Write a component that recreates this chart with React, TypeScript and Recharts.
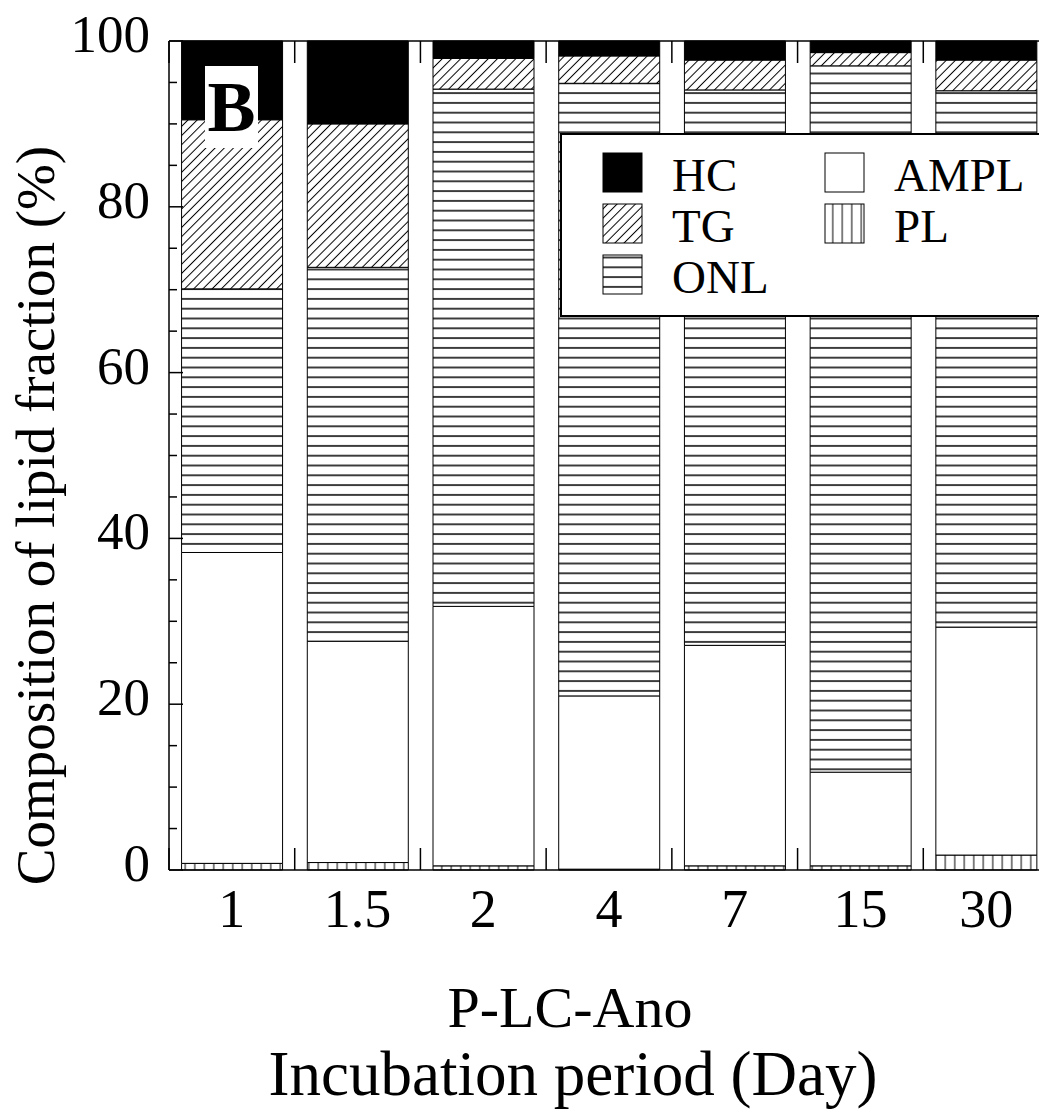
import React from 'react';
import { BarChart, Bar, XAxis, YAxis, Legend } from 'recharts';

const days = ['1', '1.5', '2', '4', '7', '15', '30'];
const plValues = [0.8, 0.9, 0.5, 0.1, 0.5, 0.5, 1.8];
const amplValues = [37.5, 26.7, 31.3, 20.9, 26.6, 11.3, 27.5];
const onlValues = [31.8, 45.1, 62.4, 73.9, 67.0, 85.2, 64.7];
const tgValues = [20.4, 17.3, 3.7, 3.3, 3.6, 1.6, 3.7];
const hcValues = [9.5, 10.0, 2.1, 1.8, 2.3, 1.4, 2.3];
const yTicks = [0, 5, 10, 15, 20, 25, 30, 35, 40, 45, 50, 55, 60, 65, 70, 75, 80, 85, 90, 95, 100];

const rows = days.map((day, i) => ({
  day,
  PL: plValues[i],
  AMPL: amplValues[i],
  ONL: onlValues[i],
  TG: tgValues[i],
  HC: hcValues[i]
}));

// stack order bottom -> top
const series = [
  { key: 'PL', fill: 'url(#plLines)' },
  { key: 'AMPL', fill: '#ffffff' },
  { key: 'ONL', fill: 'url(#onlLines)' },
  { key: 'TG', fill: 'url(#tgHatch)' },
  { key: 'HC', fill: '#000000' }
];

// legend columns as laid out in the figure
const legendCols = [['HC', 'TG', 'ONL'], ['AMPL', 'PL']];

const FONT = '"Liberation Serif", "Times New Roman", serif';
const Y_MARGIN = 19;

const LeftTick = (props: any) => {
  const { x, y, payload } = props;
  const axisX = x + Y_MARGIN;
  const major = payload.value % 20 === 0;
  return (
    <g>
      <line x1={axisX} x2={axisX + (major ? 14 : 8)} y1={y} y2={y} stroke="#000" strokeWidth={1.5} />
      {major && (
        <text x={x} y={y + 11} textAnchor="end" fontSize={53} fontFamily={FONT} fill="#000">
          {payload.value}
        </text>
      )}
    </g>
  );
};

const RightTick = (props: any) => {
  const { x, y, payload } = props;
  const major = payload.value % 20 === 0;
  return <line x1={x} x2={x - (major ? 14 : 8)} y1={y} y2={y} stroke="#000" strokeWidth={1.5} />;
};

const BottomTick = (props: any) => {
  const { x, y, payload, width, visibleTicksCount } = props;
  const band = (width || 880) / (visibleTicksCount || 7);
  const bx = x - band / 2;
  return (
    <g>
      <line x1={bx} x2={bx} y1={y} y2={y - 22} stroke="#000" strokeWidth={1.5} />
      <text x={x} y={y + 57} textAnchor="middle" fontSize={54} fontFamily={FONT} fill="#000">
        {payload.value}
      </text>
    </g>
  );
};

const TopTick = (props: any) => {
  const { x, y, width, visibleTicksCount } = props;
  const band = (width || 880) / (visibleTicksCount || 7);
  const bx = x - band / 2;
  return <line x1={bx} x2={bx} y1={y} y2={y + 22} stroke="#000" strokeWidth={1.5} />;
};

const XTitle = (props: any) => {
  const vb = props.viewBox || { x: 169, y: 870, width: 880, height: 247 };
  const cx = vb.x + vb.width / 2 - 39;
  return (
    <g fontFamily={FONT} fill="#000">
      <text x={cx} y={vb.y + 157} textAnchor="middle" fontSize={58}>P-LC-Ano</text>
      <text x={cx + 3} y={vb.y + 225} textAnchor="middle" fontSize={63}>Incubation period (Day)</text>
    </g>
  );
};

const YTitle = (props: any) => {
  const vb = props.viewBox || { x: 0, y: 41, width: 169, height: 829 };
  const cx = vb.x + 54;
  const cy = vb.y + vb.height / 2 + 60;
  return (
    <text
      x={cx}
      y={cy}
      transform={`rotate(-90, ${cx}, ${cy})`}
      textAnchor="middle"
      fontSize={55}
      fontFamily={FONT}
      fill="#000"
    >
      Composition of lipid fraction (%)
    </text>
  );
};

const LegendBox = () => {
  const fillOf = (k: string) => series.find((s) => s.key === k)!.fill;
  return (
    <div
      style={{
        width: 520,
        height: 184,
        boxSizing: 'border-box',
        border: '2px solid #000',
        background: '#fff'
      }}
    >
      <svg width={516} height={180}>
        {legendCols.map((col, c) =>
          col.map((name, r) => {
            const sx = c === 0 ? 41 : 263;
            const sy = 18 + r * 51;
            return (
              <g key={name}>
                <rect x={sx} y={sy} width={39} height={39} fill={fillOf(name)} stroke="#000" strokeWidth={1} />
                <text x={sx + 69} y={sy + 38} fontSize={47} fontFamily={FONT} fill="#000">
                  {name}
                </text>
              </g>
            );
          })
        )}
      </svg>
    </div>
  );
};

const LipidChart = () => {
  return (
    <div
      style={{
        position: 'absolute',
        left: 0,
        top: 0,
        width: 1039,
        height: 1117,
        overflow: 'hidden',
        background: '#fff'
      }}
    >
      <BarChart
        width={1050}
        height={1117}
        data={rows}
        margin={{ top: 40, right: 0, bottom: 0, left: 0 }}
        barCategoryGap="10%"
      >
        <defs>
          <pattern id="tgHatch" width={6.5} height={6.5} patternUnits="userSpaceOnUse" patternTransform="rotate(45)">
            <rect width={6.5} height={6.5} fill="#fff" />
            <line x1={3.25} y1={0} x2={3.25} y2={6.5} stroke="#000" strokeWidth={1} />
          </pattern>
          <pattern id="onlLines" width={10} height={9.8} patternUnits="userSpaceOnUse">
            <rect width={10} height={9.8} fill="#fff" />
            <line x1={0} y1={4.9} x2={10} y2={4.9} stroke="#000" strokeWidth={1.5} />
          </pattern>
          <pattern id="plLines" width={9.5} height={10} patternUnits="userSpaceOnUse">
            <rect width={9.5} height={10} fill="#fff" />
            <line x1={4.75} y1={0} x2={4.75} y2={10} stroke="#000" strokeWidth={1} />
          </pattern>
        </defs>
        <XAxis
          dataKey="day"
          height={247}
          interval={0}
          tickSize={0}
          tickMargin={0}
          tickLine={false}
          axisLine={{ stroke: '#000', strokeWidth: 1.5 }}
          tick={<BottomTick />}
          label={<XTitle />}
        />
        <XAxis
          xAxisId="top"
          orientation="top"
          dataKey="day"
          height={1}
          interval={0}
          tickSize={0}
          tickMargin={0}
          tickLine={false}
          axisLine={{ stroke: '#000', strokeWidth: 1.5 }}
          tick={<TopTick />}
        />
        <YAxis
          type="number"
          domain={[0, 100]}
          ticks={yTicks}
          interval={0}
          width={169}
          tickSize={0}
          tickMargin={Y_MARGIN}
          tickLine={false}
          axisLine={{ stroke: '#000', strokeWidth: 1.5 }}
          tick={<LeftTick />}
          label={<YTitle />}
        />
        <YAxis
          yAxisId="right"
          orientation="right"
          type="number"
          domain={[0, 100]}
          ticks={yTicks}
          interval={0}
          width={1}
          tickSize={0}
          tickMargin={0}
          tickLine={false}
          axisLine={{ stroke: '#000', strokeWidth: 1.5 }}
          tick={<RightTick />}
        />
        <Legend
          layout="horizontal"
          verticalAlign="middle"
          align="center"
          content={<LegendBox />}
          wrapperStyle={{ left: 560, top: 133, width: 520, height: 184 }}
        />
        {series.map((s) => (
          <Bar
            key={s.key}
            dataKey={s.key}
            stackId="lipid"
            fill={s.fill}
            stroke="#000"
            strokeWidth={1}
            isAnimationActive={false}
          />
        ))}
      </BarChart>
      <div
        style={{
          position: 'absolute',
          left: 205,
          top: 66,
          width: 53,
          height: 82,
          background: '#fff',
          fontFamily: FONT,
          fontWeight: 'bold',
          fontSize: 72,
          lineHeight: '82px',
          textAlign: 'center',
          color: '#000'
        }}
      >
        B
      </div>
    </div>
  );
};

export default function App() {
  return <LipidChart />;
}
